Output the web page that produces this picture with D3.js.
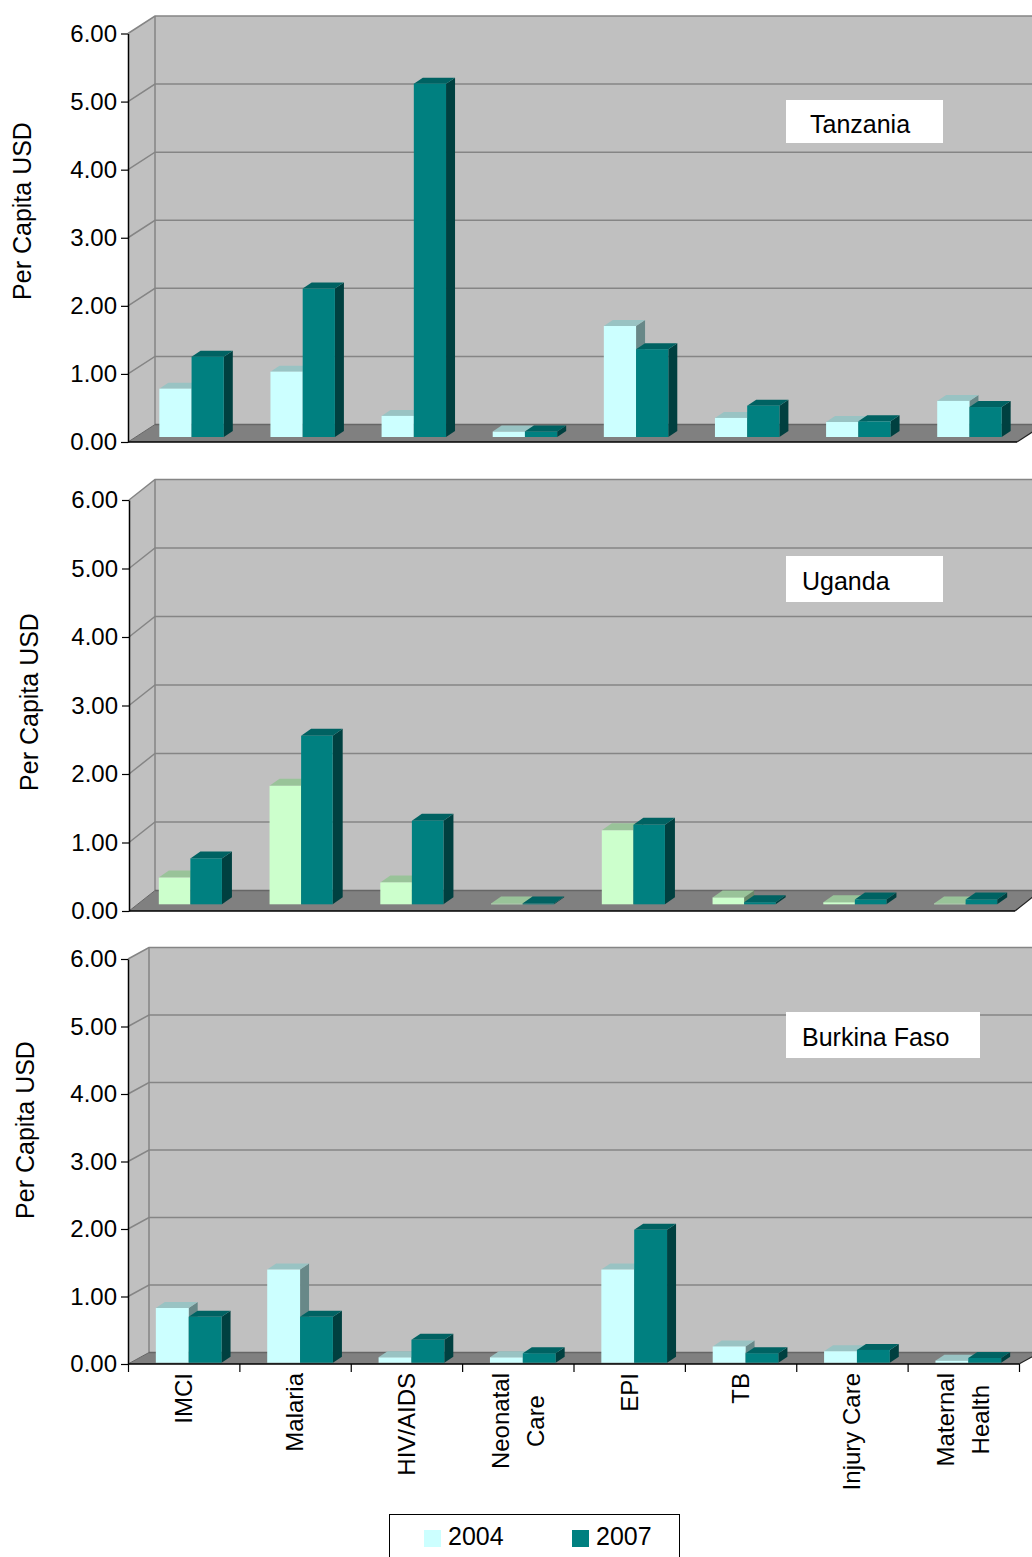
<!DOCTYPE html>
<html>
<head>
<meta charset="utf-8">
<script src="https://cdn.jsdelivr.net/npm/d3@7"></script>
<style>
  html, body { margin: 0; padding: 0; background: #ffffff; }
  svg { display: block; font-family: "Liberation Sans", Arial, sans-serif; }
</style>
</head>
<body>
<script>
// Per-capita spending by programme area, three countries, 2004 vs 2007
const categories = ["IMCI", "Malaria", "HIV/AIDS", "Neonatal Care", "EPI", "TB", "Injury Care", "Maternal Health"];
const categoryLabels = [["IMCI"], ["Malaria"], ["HIV/AIDS"], ["Neonatal", "Care"], ["EPI"], ["TB"], ["Injury Care"], ["Maternal", "Health"]];
const years = ["2004", "2007"];
const yTicks = [0, 1, 2, 3, 4, 5, 6];

const tanzania2004 = [0.71, 0.96, 0.31, 0.08, 1.63, 0.28, 0.22, 0.53];
const tanzania2007 = [1.18, 2.18, 5.19, 0.08, 1.29, 0.46, 0.23, 0.44];
const uganda2004   = [0.39, 1.73, 0.32, 0.01, 1.08, 0.10, 0.03, 0.01];
const uganda2007   = [0.67, 2.46, 1.22, 0.01, 1.16, 0.03, 0.07, 0.07];
const burkina2004  = [0.81, 1.38, 0.08, 0.08, 1.38, 0.24, 0.17, 0.03];
const burkina2007  = [0.68, 0.68, 0.34, 0.14, 1.97, 0.14, 0.19, 0.07];

const countries = ["Tanzania", "Uganda", "Burkina Faso"];
const seriesByCountry = [
  [tanzania2004, tanzania2007],
  [uganda2004, uganda2007],
  [burkina2004, burkina2007]
];

// shading for the 3-D boxes: front / top / side
const cyanShade  = { front: "#ccffff", top: "#99c3c3", side: "#688888" };
const greenShade = { front: "#ccffcc", top: "#99c399", side: "#688868" };
const tealShade  = { front: "#008080", top: "#006262", side: "#004040" };

// layout of each panel (front plane, depth offset of the walls and of the boxes)
const panels = [
  { x0: 128, x1: 1017, y0: 442, y6: 33.5, depth: [27, -17.5], barOff: [8, -5], barDepth: [9, -6], pad: 0.42,
    titleX: 31, titleY: 211, box: [786, 100, 157, 43], textX: 810, shades: [cyanShade, tealShade], axisX: false },
  { x0: 129, x1: 1015, y0: 911, y6: 500, depth: [26, -20.5], barOff: [6, -6.7], barDepth: [10, -7], pad: 0.43,
    titleX: 38, titleY: 702, box: [786, 556, 157, 46], textX: 802, shades: [greenShade, tealShade], axisX: false },
  { x0: 128, x1: 1019, y0: 1364, y6: 959, depth: [21, -11.5], barOff: [5, -1.3], barDepth: [9, -6], pad: 0.41,
    titleX: 34, titleY: 1130, box: [786, 1012, 194, 46], textX: 802, shades: [cyanShade, tealShade], axisX: true }
];

const svg = d3.select("body").append("svg")
  .attr("width", 1032).attr("height", 1557);

const poly = pts => "M" + pts.map(p => p.join(",")).join("L") + "Z";

panels.forEach((p, pi) => {
  const g = svg.append("g");
  const [dx, dy] = p.depth;
  const y = d3.scaleLinear().domain([0, 6]).range([p.y0, p.y6]);
  const x = d3.scaleBand().domain(categories).range([p.x0, p.x1])
    .paddingInner(p.pad).paddingOuter(p.pad / 2);
  const xs = d3.scaleBand().domain(years).range([0, x.bandwidth()]);

  // back wall and side wall
  g.append("rect")
    .attr("x", p.x0 + dx).attr("y", y(6) + dy)
    .attr("width", p.x1 - p.x0).attr("height", y(0) - y(6))
    .attr("fill", "#c0c0c0");
  g.append("path")
    .attr("d", poly([[p.x0, y(6)], [p.x0 + dx, y(6) + dy], [p.x0 + dx, y(0) + dy], [p.x0, y(0)]]))
    .attr("fill", "#c0c0c0");

  // gridlines running across the side wall and the back wall
  g.selectAll("path.grid").data(yTicks.filter(v => v > 0)).join("path")
    .attr("class", "grid")
    .attr("d", v => `M${p.x0},${y(v)}L${p.x0 + dx},${y(v) + dy}L${p.x1 + dx},${y(v) + dy}`)
    .attr("fill", "none").attr("stroke", "#858585").attr("stroke-width", 1.5);
  g.append("line")
    .attr("x1", p.x0 + dx).attr("x2", p.x0 + dx)
    .attr("y1", y(6) + dy).attr("y2", y(0) + dy)
    .attr("stroke", "#858585").attr("stroke-width", 1.5);

  // floor
  g.append("path")
    .attr("d", poly([[p.x0, y(0)], [p.x1, y(0)], [p.x1 + dx, y(0) + dy], [p.x0 + dx, y(0) + dy]]))
    .attr("fill", "#808080");
  g.append("line")
    .attr("x1", p.x0 + dx).attr("x2", p.x1 + dx)
    .attr("y1", y(0) + dy).attr("y2", y(0) + dy)
    .attr("stroke", "#666666").attr("stroke-width", 1.5);
  g.append("line")
    .attr("x1", p.x0).attr("x2", p.x0 + dx)
    .attr("y1", y(0)).attr("y2", y(0) + dy)
    .attr("stroke", "#666666").attr("stroke-width", 1);
  g.append("line")
    .attr("x1", p.x1).attr("x2", p.x1 + dx)
    .attr("y1", y(0)).attr("y2", y(0) + dy)
    .attr("stroke", "#222222").attr("stroke-width", 1.2);

  // 3-D boxes
  const [ox, oy] = p.barOff;
  const [bx, by] = p.barDepth;
  const series = seriesByCountry[pi];
  const bars = [];
  categories.forEach((c, ci) => {
    years.forEach((yr, si) => {
      bars.push({ cat: c, year: yr, value: series[si][ci], shade: p.shades[si] });
    });
  });
  const bg = g.selectAll("g.bar").data(bars).join("g").attr("class", "bar");
  bg.each(function (d) {
    const sel = d3.select(this);
    const xl = x(d.cat) + xs(d.year) + ox;
    const w = xs.bandwidth();
    const yt = y(d.value) + oy;
    const yb = y(0) + oy;
    sel.append("path")
      .attr("d", poly([[xl + w, yt], [xl + w + bx, yt + by], [xl + w + bx, yb + by], [xl + w, yb]]))
      .attr("fill", d.shade.side);
    sel.append("path")
      .attr("d", poly([[xl, yt], [xl + w, yt], [xl + w + bx, yt + by], [xl + bx, yt + by]]))
      .attr("fill", d.shade.top);
    sel.append("rect")
      .attr("x", xl).attr("y", yt)
      .attr("width", w).attr("height", Math.max(0, yb - yt))
      .attr("fill", d.shade.front);
  });

  // front edge of the floor
  g.append("line")
    .attr("x1", p.x0).attr("x2", p.x1)
    .attr("y1", y(0)).attr("y2", y(0))
    .attr("stroke", "#000").attr("stroke-width", 1.5);

  // value axis
  const yAxis = g.append("g")
    .attr("transform", `translate(${p.x0},0)`)
    .call(d3.axisLeft(y).tickValues(yTicks).tickFormat(d3.format(".2f"))
      .tickSize(7).tickSizeOuter(0).tickPadding(4));
  yAxis.select(".domain").attr("stroke", "#000").attr("stroke-width", 1.5);
  yAxis.selectAll(".tick line").attr("stroke", "#000").attr("stroke-width", 1.2);
  yAxis.selectAll(".tick text")
    .attr("font-size", 24).attr("fill", "#000")
    .attr("font-family", "'Liberation Sans', Arial, sans-serif");

  // axis title
  g.append("text")
    .attr("transform", `translate(${p.titleX},${p.titleY}) rotate(-90)`)
    .attr("text-anchor", "middle")
    .attr("font-size", 25).attr("fill", "#000")
    .text("Per Capita USD");

  // country label
  const [bxx, byy, bw, bh] = p.box;
  g.append("rect").attr("x", bxx).attr("y", byy).attr("width", bw).attr("height", bh).attr("fill", "#fff");
  g.append("text")
    .attr("x", p.textX).attr("y", byy + bh / 2 + 2.5)
    .attr("dy", "0.35em")
    .attr("font-size", 25).attr("fill", "#000")
    .text(countries[pi]);

  // category axis (bottom panel only)
  if (p.axisX) {
    const edges = d3.scaleLinear().domain([0, categories.length]).range([p.x0, p.x1]);
    const xAxis = g.append("g")
      .attr("transform", `translate(0,${y(0)})`)
      .call(d3.axisBottom(edges).tickValues(d3.range(categories.length + 1))
        .tickFormat("").tickSize(8).tickSizeOuter(0));
    xAxis.select(".domain").remove();
    xAxis.selectAll(".tick line").attr("stroke", "#000").attr("stroke-width", 1.2);

    const lineH = 35;
    const labelTop = y(0) + 9;
    categories.forEach((c, ci) => {
      const cx = x(c) + x.bandwidth() / 2;
      const lines = categoryLabels[ci];
      const lg = g.append("g").attr("transform", `translate(${cx},${labelTop}) rotate(-90)`);
      const texts = lines.map((t, li) => lg.append("text")
        .attr("y", (li - (lines.length - 1) / 2) * lineH)
        .attr("dy", "0.35em")
        .attr("font-size", 24).attr("fill", "#000")
        .text(t));
      const maxW = d3.max(texts, t => t.node().getComputedTextLength());
      texts.forEach(t => t.attr("x", -maxW / 2).attr("text-anchor", "middle"));
    });
  }
});

// legend
const legend = svg.append("g");
legend.append("rect")
  .attr("x", 389.5).attr("y", 1514.5).attr("width", 290).attr("height", 60)
  .attr("fill", "#fff").attr("stroke", "#000").attr("stroke-width", 1);
const legendItems = [
  { year: years[0], color: cyanShade.front, x: 424 },
  { year: years[1], color: tealShade.front, x: 572 }
];
legendItems.forEach(it => {
  legend.append("rect").attr("x", it.x).attr("y", 1530).attr("width", 17).attr("height", 17).attr("fill", it.color);
  legend.append("text").attr("x", it.x + 24).attr("y", 1545)
    .attr("font-size", 25).attr("fill", "#000").text(it.year);
});
</script>
</body>
</html>
